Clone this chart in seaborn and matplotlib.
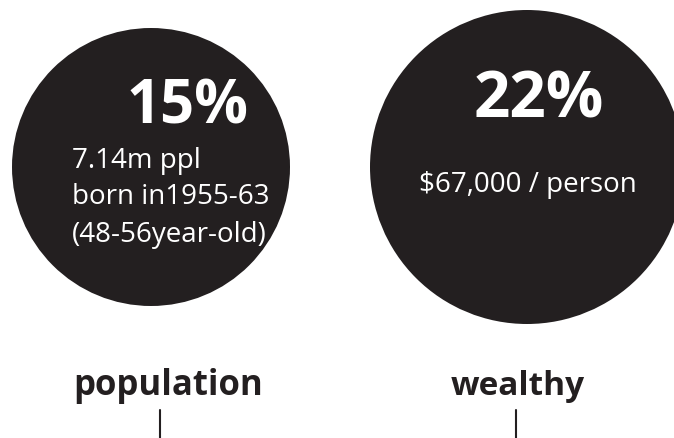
import numpy as np
import pandas as pd
import matplotlib.pyplot as plt
import seaborn as sns
from matplotlib.patches import Circle

# chart content
categories = ["population", "wealthy"]
shares = [15, 22]
share_labels = ["15%", "22%"]
detail_lines = [["7.14m ppl", "born in1955-63", "(48-56year-old)"],
                ["$67,000 / person"]]

# layout in pixel units (figure is 674 x 438)
W, H = 674, 438
circle_x = [151, 527]
circle_y = [167, 167]
circle_r = [139, 157]
share_pos = [(188, 123, 43), (539, 118, 46)]       # x, baseline, size
detail_pos = [(72, [168, 204, 242], 'left'), (528, [192], 'center')]
label_pos = [(168, 395, 25), (518, 395, 24)]
stem_x = [160, 516]
ink = "#231f20"

sns.set_style("white")
plt.rcParams['font.family'] = ['Open Sans', 'DejaVu Sans']

fig = plt.figure(figsize=(W / 100, H / 100), dpi=100)
ax = fig.add_axes([0, 0, 1, 1])
ax.set_xlim(0, W)
ax.set_ylim(H, 0)
ax.set_aspect('equal')
ax.axis('off')

df = pd.DataFrame({"cat": categories, "share": shares, "x": circle_x,
                   "y": circle_y, "r": circle_r})

for _, row in df.iterrows():
    ax.add_patch(Circle((row.x, row.y), row.r, color=ink, lw=0, zorder=1))

for lab, (x, yb, fs) in zip(share_labels, share_pos):
    ax.text(x, yb, lab, color="white", fontsize=fs, fontweight='bold',
            ha='center', va='baseline', zorder=3)

for lines, (x, ybs, ha) in zip(detail_lines, detail_pos):
    for line, yb in zip(lines, ybs):
        ax.text(x, yb, line, color="white", fontsize=20, ha=ha,
                va='baseline', zorder=3)

for cat, (x, yb, fs) in zip(categories, label_pos):
    ax.text(x, yb, cat, color=ink, fontsize=fs, fontweight='bold',
            ha='center', va='baseline')

stems = pd.DataFrame({"x": [stem_x[0], stem_x[0], stem_x[1], stem_x[1]],
                      "y": [410, 438, 410, 438],
                      "g": [0, 0, 1, 1]})
for g, sub in stems.groupby("g"):
    ax.plot(sub.x, sub.y, color=ink, lw=1.5)

fig.savefig("out.png", dpi=100)
